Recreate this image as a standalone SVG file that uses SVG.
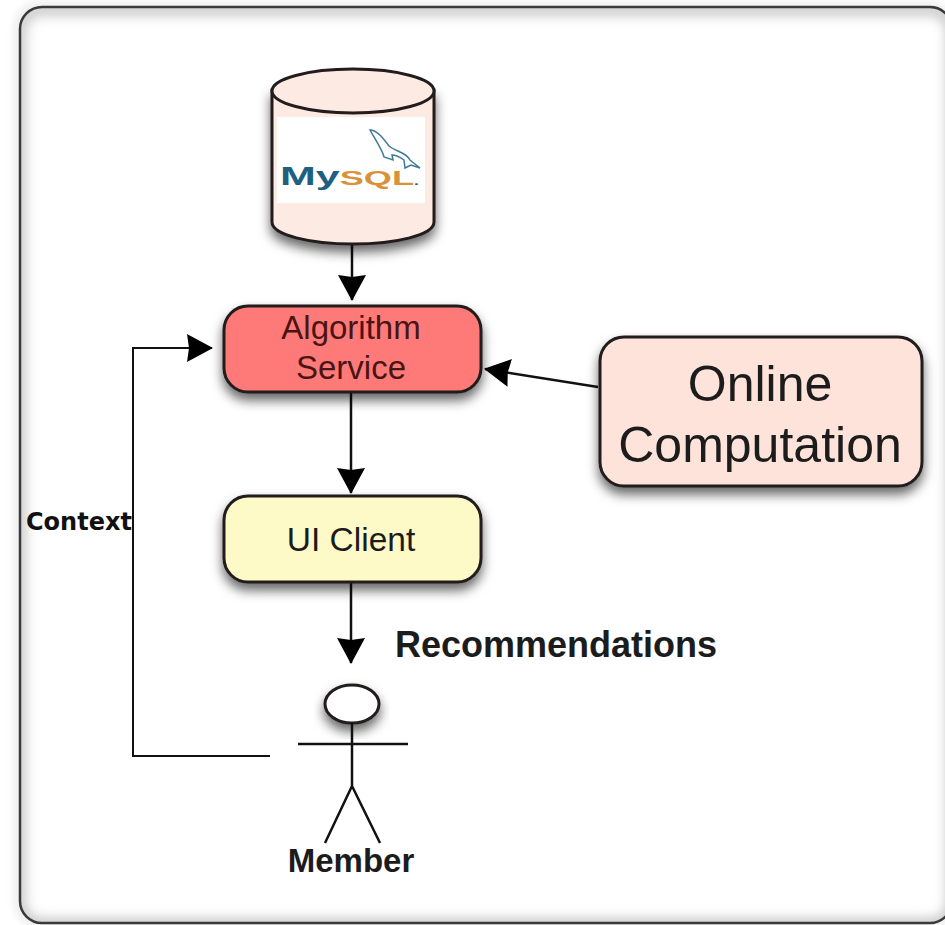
<svg xmlns="http://www.w3.org/2000/svg" width="945" height="925" viewBox="0 0 945 925">
<defs>
<filter id="sh" x="-20%" y="-20%" width="140%" height="160%"><feDropShadow dx="0" dy="7" stdDeviation="6" flood-color="#000" flood-opacity="0.6"/></filter>
<filter id="glow" x="-5%" y="-5%" width="110%" height="110%"><feGaussianBlur stdDeviation="6"/></filter>
<filter id="outer" x="-5%" y="-5%" width="110%" height="110%"><feGaussianBlur stdDeviation="4"/></filter>
<clipPath id="inside"><rect x="20" y="7" width="932" height="916" rx="22"/></clipPath>
<marker id="ah" markerUnits="userSpaceOnUse" markerWidth="26" markerHeight="28" refX="25" refY="14" orient="auto"><path d="M0 0L26 14L0 28L2 14Z" fill="#000"/></marker>
</defs>
<style>
.t{font-family:"Liberation Sans",Arial,sans-serif;fill:#1c1c1c}
.b{font-weight:bold}
.box{stroke:#221c1c;stroke-width:3}
.line{stroke:#111;stroke-width:2.5;fill:none}
</style>
<rect width="945" height="925" fill="#fff"/>
<g id="frame">
<rect x="18" y="6" width="934" height="918" rx="22" fill="none" stroke="#e4e4e4" stroke-width="6" filter="url(#outer)"/>
<g clip-path="url(#inside)"><rect x="20" y="10" width="932" height="914" rx="22" fill="none" stroke="#ccc" stroke-width="12" filter="url(#glow)"/></g>
<rect x="20" y="7" width="932" height="916" rx="22" fill="none" stroke="#3a3a3a" stroke-width="2.5"/>
</g>
<g id="connectors">
<path class="line" d="M352 244V300" marker-end="url(#ah)"/>
<path class="line" d="M351 392V493" marker-end="url(#ah)"/>
<path class="line" d="M351 582V663" marker-end="url(#ah)"/>
<path class="line" d="M598 387L485 369" marker-end="url(#ah)"/>
<path class="line" style="stroke-width:2" d="M270 756H133V348H212" marker-end="url(#ah)"/>
</g>
<g id="mysql">
<path d="M272 90V222C272 235 310 244 353 244C396 244 434 235 434 222V90Z" fill="#fdeae2" class="box" filter="url(#sh)"/>
<ellipse cx="353" cy="91" rx="81" ry="22" fill="#fdeae2" class="box"/>
<rect x="277" y="117" width="148" height="86" fill="#fff"/>
<text transform="translate(280 185) scale(1.72 1)" font-family="'Liberation Sans',Arial,sans-serif" font-weight="bold" font-size="25" fill="#1f5f7f">My<tspan font-size="21" fill="#d9913a">SQL</tspan><tspan font-size="10" fill="#1f5f7f">.</tspan></text>
<path d="M370 130C377 130 383 138 389 146C396 152 406 152 410 160L420 168L411 165L405 168L404 160C400 157 396 155 392 155L393 160L384 157C382 149 376 141 370 130Z" fill="#fff" stroke="#3f7a94" stroke-width="1.5"/>
</g>
<g id="algorithm">
<rect x="224" y="306" width="257" height="86" rx="24" fill="#fe7a78" class="box" filter="url(#sh)"/>
<text class="t" x="351" y="339" font-size="33" text-anchor="middle" style="fill:#4a1414">Algorithm</text>
<text class="t" x="351" y="379" font-size="33" text-anchor="middle" style="fill:#4a1414">Service</text>
</g>
<g id="online">
<rect x="600" y="337" width="322" height="149" rx="24" fill="#fde3da" class="box" filter="url(#sh)"/>
<text class="t" x="760" y="401" font-size="50" text-anchor="middle">Online</text>
<text class="t" x="760" y="462" font-size="50" text-anchor="middle">Computation</text>
</g>
<g id="ui">
<rect x="224" y="496" width="257" height="86" rx="24" fill="#fefac8" class="box" filter="url(#sh)"/>
<text class="t" x="351" y="551" font-size="33.5" text-anchor="middle">UI Client</text>
</g>
<g id="member">
<ellipse cx="352" cy="704" rx="27" ry="19" fill="#fff" class="box" filter="url(#sh)"/>
<path class="line" d="M352 723V786M298 744H408M352 786L325 843M352 786L380 843"/>
<text class="t b" x="351" y="872" font-size="33" text-anchor="middle">Member</text>
</g>
<text id="context" class="b" x="26" y="530" font-family="'DejaVu Sans',sans-serif" font-size="24" fill="#111">Context</text>
<text id="recommendations" class="t b" x="395" y="657" font-size="36">Recommendations</text>
</svg>
